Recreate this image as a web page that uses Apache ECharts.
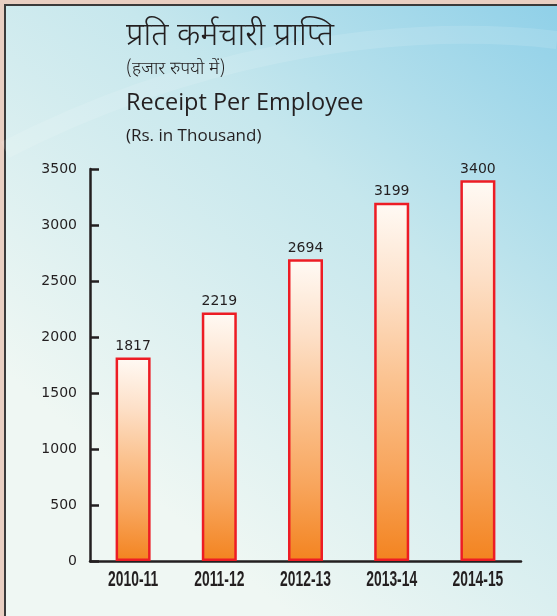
<!DOCTYPE html>
<html>
<head>
<meta charset="utf-8">
<title>Receipt Per Employee</title>
<script src="https://cdn.jsdelivr.net/npm/echarts@6/dist/echarts.min.js"></script>
<style>
  html, body { margin: 0; padding: 0; background: #e9cfc2; }
  #chart { width: 557px; height: 616px; }
</style>
</head>
<body>
<div id="chart"></div>
<script>
// data
const categories = ['2010-11', '2011-12', '2012-13', '2013-14', '2014-15'];
const receipts = [1817, 2219, 2694, 3199, 3400];
const yMax = 3500;
const yStep = 500;

const titleHindi = 'प्रति कर्मचारी प्राप्ति';
const subHindi = '(हजार रुपयो में)';
const titleEn = 'Receipt Per Employee';
const subEn = '(Rs. in Thousand)';

const chart = echarts.init(document.getElementById('chart'));

const axisColor = '#231f20';
const hindiFont = '"Noto Sans Devanagari", "Noto Serif Devanagari", "Lohit Devanagari", "Noto Sans", sans-serif';
const enFont = '"Open Sans", "Noto Sans", sans-serif';

const background = [
  {
    id: 'outside',
    type: 'rect',
    z: -10,
    silent: true,
    shape: { x: 0, y: 0, width: 557, height: 616 },
    style: { fill: '#e9cfc2' }
  },
  {
    id: 'panel',
    type: 'rect',
    z: -9,
    silent: true,
    shape: { x: 5, y: 5, width: 600, height: 660 },
    style: {
      fill: new echarts.graphic.LinearGradient(0.95, 0, 0.25, 0.75, [
        { offset: 0, color: '#8dcfe8' },
        { offset: 0.45, color: '#c6e7ed' },
        { offset: 1, color: '#eff7f3' }
      ]),
      stroke: '#3a3a3a',
      lineWidth: 2
    }
  },
  {
    id: 'swoosh',
    type: 'bezierCurve',
    z: -8,
    silent: true,
    shape: { x1: 5, y1: 150, x2: 557, y2: 40, cpx1: 180, cpy1: 60, cpx2: 380, cpy2: 20 },
    style: { stroke: 'rgba(255,255,255,0.12)', lineWidth: 18, fill: 'none' }
  }
];

chart.setOption({
  animation: false,
  graphic: background,
  title: [
    {
      text: titleHindi,
      left: 126, top: 23, padding: 0,
      textStyle: { fontFamily: hindiFont, fontSize: 32, fontWeight: 300, color: '#231f20' }
    },
    {
      text: subHindi,
      left: 126, top: 62, padding: 0,
      textStyle: { fontFamily: hindiFont, fontSize: 18, fontWeight: 300, color: '#231f20' }
    },
    {
      text: titleEn,
      left: 126, top: 91, padding: 0,
      textStyle: { fontFamily: enFont, fontSize: 23.5, fontWeight: 'normal', color: '#231f20' }
    },
    {
      text: subEn,
      left: 126, top: 128, padding: 0,
      textStyle: { fontFamily: enFont, fontSize: 17, fontWeight: 'normal', color: '#231f20' }
    }
  ],
  grid: { left: 90, right: 36, top: 169, bottom: 55 },
  xAxis: {
    type: 'category',
    data: categories,
    axisLine: { lineStyle: { color: axisColor, width: 2.5 } },
    axisTick: { inside: true, length: 12, lineStyle: { color: axisColor, width: 2.5 } },
    // labels drawn below as condensed text placed through the axis scale
    axisLabel: { show: false }
  },
  yAxis: {
    type: 'value',
    min: 0,
    max: yMax,
    interval: yStep,
    axisLine: { show: true, lineStyle: { color: axisColor, width: 2.5 } },
    axisTick: { show: true, inside: true, length: 9, lineStyle: { color: axisColor, width: 2.5 } },
    splitLine: { show: false },
    axisLabel: {
      margin: 13,
      fontFamily: '"DejaVu Sans", sans-serif',
      fontSize: 14,
      color: axisColor,
      formatter: (v) => String(v)
    }
  },
  series: [
    {
      type: 'bar',
      data: receipts,
      barWidth: 35,
      itemStyle: {
        color: new echarts.graphic.LinearGradient(0.7, 0, 0.3, 1, [
          { offset: 0, color: '#fffaf5' },
          { offset: 0.25, color: '#fde0c8' },
          { offset: 0.5, color: '#fbc28f' },
          { offset: 0.75, color: '#f8a55c' },
          { offset: 1, color: '#f3831f' }
        ]),
        borderColor: '#ed1c24',
        borderWidth: 2.5
      },
      label: {
        show: true,
        position: 'top',
        distance: 4,
        fontFamily: '"DejaVu Sans", sans-serif',
        fontSize: 14,
        color: axisColor
      }
    }
  ]
});

// condensed bold category labels, positioned from the category axis
const baseY = chart.convertToPixel({ yAxisIndex: 0 }, 0);
const catLabels = categories.map((c, i) => ({
  id: 'cat' + i,
  type: 'text',
  silent: true,
  x: chart.convertToPixel({ xAxisIndex: 0 }, c),
  y: baseY + 19,
  scaleX: 0.63,
  style: {
    text: c,
    font: 'bold 22px "Liberation Sans", Arial, sans-serif',
    fill: axisColor,
    align: 'center',
    verticalAlign: 'middle'
  }
}));
chart.setOption({ graphic: background.concat(catLabels) });
</script>
</body>
</html>
